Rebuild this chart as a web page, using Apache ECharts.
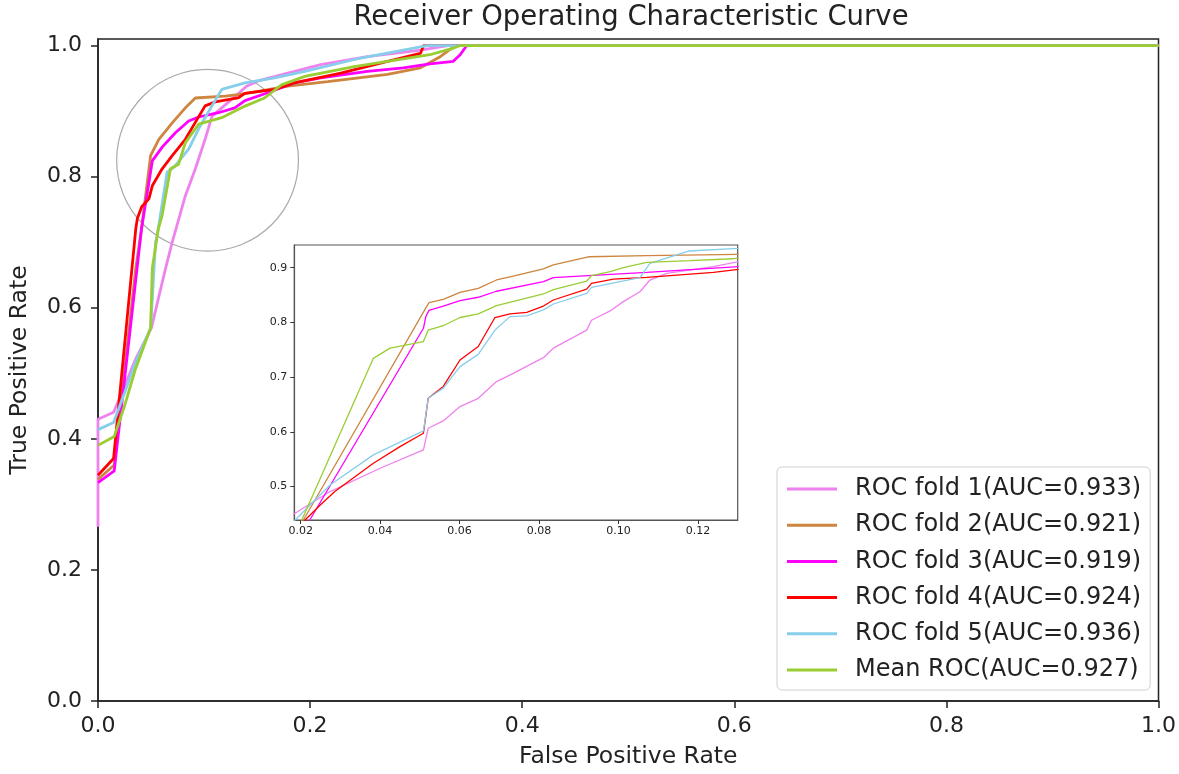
<!DOCTYPE html>
<html><head><meta charset="utf-8">
<script src="https://cdn.jsdelivr.net/npm/echarts@6/dist/echarts.min.js"></script>
<style>html,body{margin:0;padding:0;background:#fff}#c{width:1179px;height:774px}</style>
</head><body><div id="c"></div>
<script>
// ---------- data ----------
const seriesNames = ['ROC fold 1(AUC=0.933)','ROC fold 2(AUC=0.921)','ROC fold 3(AUC=0.919)','ROC fold 4(AUC=0.924)','ROC fold 5(AUC=0.936)','Mean ROC(AUC=0.927)'];
const seriesColors = ['#ee82ee','#cd853f','#ff00ff','#ff0000','#87ceeb','#9acd32'];

const fold1Main = [[0,0.266],[0,0.43],[0.0147,0.4405],[0.025,0.48],[0.035,0.52],[0.0503,0.569],[0.0637,0.66],[0.07,0.70],[0.0824,0.771],[0.0918,0.812],[0.101,0.857],[0.1074,0.892],[0.1167,0.905],[0.129,0.922],[0.14,0.938],[0.151,0.946],[0.179,0.958],[0.21,0.971],[0.254,0.983],[0.304,0.993],[0.3227,0.998],[0.33,1.0],[1,1]];
const fold2Main = [[0,0.338],[0.0153,0.36],[0.0356,0.66],[0.041,0.72],[0.0496,0.832],[0.0574,0.857],[0.07,0.882],[0.0824,0.905],[0.0918,0.920],[0.12,0.923],[0.132,0.925],[0.151,0.930],[0.179,0.938],[0.2166,0.945],[0.273,0.956],[0.304,0.966],[0.3227,0.983],[0.332,0.994],[0.338,1.0],[1,1]];
const fold3Main = [[0,0.333],[0.0153,0.351],[0.041,0.72],[0.0512,0.824],[0.0605,0.845],[0.073,0.867],[0.0855,0.885],[0.0949,0.891],[0.1136,0.8975],[0.129,0.905],[0.1386,0.916],[0.160,0.928],[0.185,0.943],[0.21,0.9506],[0.254,0.9606],[0.288,0.966],[0.313,0.972],[0.335,0.976],[0.3415,0.986],[0.3477,1.0],[1,1]];
const fold4Main = [[0,0.3445],[0.0147,0.37],[0.0356,0.72],[0.0371,0.736],[0.0412,0.754],[0.048,0.766],[0.0512,0.786],[0.0605,0.812],[0.07,0.832],[0.0824,0.857],[0.0933,0.887],[0.101,0.908],[0.1105,0.914],[0.132,0.920],[0.1386,0.927],[0.1667,0.933],[0.185,0.943],[0.229,0.958],[0.273,0.976],[0.304,0.988],[0.307,1.0],[1,1]];
const fold5Main = [[0,0.414],[0.0147,0.425],[0.025,0.47],[0.035,0.515],[0.0496,0.569],[0.0543,0.70],[0.0559,0.711],[0.0652,0.807],[0.0715,0.814],[0.0855,0.842],[0.0949,0.873],[0.1074,0.908],[0.1167,0.933],[0.1386,0.943],[0.1667,0.9506],[0.195,0.9606],[0.2478,0.981],[0.2978,0.996],[0.31,1.0],[1,1]];
const meanMain  = [[0,0.39],[0.0153,0.4036],[0.025,0.45],[0.035,0.505],[0.0496,0.569],[0.0512,0.66],[0.0568,0.72],[0.0605,0.741],[0.0683,0.812],[0.076,0.819],[0.0824,0.852],[0.0949,0.880],[0.1167,0.89],[0.126,0.8975],[0.1386,0.9076],[0.157,0.920],[0.173,0.940],[0.195,0.953],[0.2416,0.968],[0.273,0.976],[0.313,0.986],[0.335,0.996],[0.3415,1.0],[1,1]];

const fold1Inset = [[0.0175,0.446],[0.0186,0.4513],[0.0274,0.491],[0.04,0.5336],[0.0509,0.567],[0.0521,0.6066],[0.0559,0.620],[0.0601,0.6462],[0.0647,0.6614],[0.0693,0.692],[0.0735,0.707],[0.0811,0.7356],[0.0836,0.753],[0.092,0.786],[0.0932,0.804],[0.0979,0.821],[0.1012,0.838],[0.1054,0.856],[0.1079,0.8775],[0.1121,0.8897],[0.1239,0.902],[0.1302,0.911]];
const fold2Inset = [[0.0200,0.43],[0.0207,0.439],[0.0517,0.8288],[0.0523,0.836],[0.0559,0.842],[0.0601,0.855],[0.0647,0.8623],[0.0693,0.8776],[0.0735,0.8848],[0.0811,0.8977],[0.0836,0.905],[0.0924,0.920],[0.1071,0.922],[0.1302,0.9244]];
const fold3Inset = [[0.0216,0.43],[0.0223,0.439],[0.0509,0.7893],[0.0515,0.8106],[0.0523,0.822],[0.0559,0.830],[0.0601,0.8398],[0.0647,0.846],[0.0693,0.857],[0.0811,0.8745],[0.0836,0.8818],[0.0924,0.8855],[0.1071,0.8916],[0.1302,0.902]];
const fold4Inset = [[0.0198,0.43],[0.0211,0.439],[0.025,0.467],[0.0286,0.491],[0.0383,0.5427],[0.045,0.573],[0.0509,0.5975],[0.0521,0.6614],[0.0559,0.683],[0.0601,0.7314],[0.0647,0.756],[0.0689,0.809],[0.0727,0.8155],[0.0769,0.8185],[0.0811,0.830],[0.0836,0.841],[0.092,0.861],[0.0932,0.8715],[0.0987,0.8793],[0.1071,0.8824],[0.1239,0.8916],[0.1302,0.897]];
const fold5Inset = [[0.0175,0.43],[0.0186,0.439],[0.0274,0.503],[0.0383,0.558],[0.0509,0.6017],[0.0521,0.6614],[0.0559,0.680],[0.0601,0.7193],[0.0647,0.7417],[0.0689,0.786],[0.0727,0.8106],[0.0769,0.812],[0.0811,0.823],[0.0836,0.8337],[0.092,0.853],[0.0932,0.864],[0.1054,0.8818],[0.1079,0.908],[0.1176,0.9305],[0.1302,0.9354]];
const meanInset  = [[0.0197,0.43],[0.0203,0.439],[0.0383,0.7344],[0.0425,0.753],[0.0509,0.765],[0.0521,0.786],[0.0559,0.794],[0.0601,0.809],[0.0647,0.8155],[0.0693,0.8306],[0.0811,0.852],[0.0836,0.860],[0.092,0.8757],[0.0932,0.8855],[0.0979,0.8928],[0.1012,0.90],[0.1071,0.9097],[0.118,0.9128],[0.1272,0.9159],[0.1302,0.917]];

const mainTicks = [0, 0.2, 0.4, 0.6, 0.8, 1.0];
const insetXTicks = [0.02, 0.04, 0.06, 0.08, 0.10, 0.12];
const insetYTicks = [0.5, 0.6, 0.7, 0.8, 0.9];
const mainXRange = [0, 1];
const mainYRange = [0, 1.01];
const insetXRange = [0.0184, 0.13];
const insetYRange = [0.439, 0.9415];
const circleCenter = [0.1033, 0.825];
const circleRadiusX = 0.0857;

// ---------- chart ----------
const FONT = 'DejaVu Sans';
const chart = echarts.init(document.getElementById('c'), null, {renderer:'canvas'});
const mainData = [fold1Main, fold2Main, fold3Main, fold4Main, fold5Main, meanMain];
const insetData = [fold1Inset, fold2Inset, fold3Inset, fold4Inset, fold5Inset, meanInset];

const series = [];
mainData.forEach((d, i) => series.push({
  type:'line', name: seriesNames[i], xAxisIndex:0, yAxisIndex:0, data:d,
  symbol:'none', showSymbol:false, z:2,
  lineStyle:{width:2.8, color:seriesColors[i]}, itemStyle:{color:seriesColors[i]}
}));
insetData.forEach((d, i) => series.push({
  type:'line', name: seriesNames[i], xAxisIndex:1, yAxisIndex:1, data:d,
  symbol:'none', showSymbol:false, z:7, clip:true,
  lineStyle:{width:1.3, color:seriesColors[i]}, itemStyle:{color:seriesColors[i]}
}));

const axisCommon = () => ({
  axisLine:{show:true, onZero:false, lineStyle:{color:'#222', width:1.5}},
  splitLine:{show:false}
});

chart.setOption({
  animation:false,
  backgroundColor:'#fff',
  title:{text:'Receiver Operating Characteristic Curve', left:626, textAlign:'center', top:-1,
    textStyle:{fontSize:27.5, fontWeight:'normal', fontFamily:FONT, color:'#222'}},
  grid:[
    {left:92, top:39, width:1068, height:666.7, show:true, borderColor:'#222', borderWidth:1.5, backgroundColor:'transparent'},
    {left:294.3, top:245, width:443.4, height:275, show:true, borderColor:'#555', borderWidth:1.2, backgroundColor:'#fff', z:5}
  ],
  xAxis:[
    Object.assign(axisCommon(), {type:'value', gridIndex:0, min:mainXRange[0], max:mainXRange[1],
      axisTick:{show:true, length:7, lineStyle:{width:1.5, color:'#222'}, customValues:mainTicks},
      axisLabel:{fontSize:22, fontFamily:FONT, color:'#222', margin:14, customValues:mainTicks, formatter:v=>v.toFixed(1)},
      name:'False Positive Rate', nameLocation:'middle', nameGap:44,
      nameTextStyle:{fontSize:23.5, fontFamily:FONT, color:'#222'}}),
    Object.assign(axisCommon(), {type:'value', gridIndex:1, min:insetXRange[0], max:insetXRange[1], z:6,
      axisLine:{show:true, onZero:false, lineStyle:{color:'#555', width:1.2}},
      axisTick:{show:true, length:4, lineStyle:{width:1, color:'#333'}, customValues:insetXTicks},
      axisLabel:{fontSize:11, fontFamily:FONT, color:'#222', margin:6, customValues:insetXTicks, formatter:v=>v.toFixed(2)}})
  ],
  yAxis:[
    Object.assign(axisCommon(), {type:'value', gridIndex:0, min:mainYRange[0], max:mainYRange[1],
      axisTick:{show:true, length:7, lineStyle:{width:1.5, color:'#222'}, customValues:mainTicks},
      axisLabel:{fontSize:22, fontFamily:FONT, color:'#222', margin:16, customValues:mainTicks, formatter:v=>v.toFixed(1)},
      name:'True Positive Rate', nameLocation:'middle', nameGap:66,
      nameTextStyle:{fontSize:23.5, fontFamily:FONT, color:'#222'}}),
    Object.assign(axisCommon(), {type:'value', gridIndex:1, min:insetYRange[0], max:insetYRange[1], z:6,
      axisLine:{show:true, onZero:false, lineStyle:{color:'#555', width:1.2}},
      axisTick:{show:true, length:4, lineStyle:{width:1, color:'#333'}, customValues:insetYTicks},
      axisLabel:{fontSize:11, fontFamily:FONT, color:'#222', margin:7, customValues:insetYTicks, formatter:v=>v.toFixed(1)}})
  ],
  legend:{
    orient:'vertical', left:777, top:467, z:10,
    padding:[8, 9, 6, 10], itemWidth:50, itemHeight:3, itemGap:8.2, icon:'rect',
    backgroundColor:'#fff', borderColor:'#d0d0d0', borderWidth:1, borderRadius:5,
    textStyle:{fontSize:24, lineHeight:28, fontFamily:FONT, color:'#222', padding:[0,0,0,13]},
    data: seriesNames
  },
  series: series
});

const cp = chart.convertToPixel({gridIndex:0}, circleCenter);
const ep = chart.convertToPixel({gridIndex:0}, [circleCenter[0] + circleRadiusX, circleCenter[1]]);
chart.setOption({graphic:[{type:'circle', silent:true, z:1,
  shape:{cx:cp[0], cy:cp[1], r:ep[0]-cp[0]},
  style:{fill:'none', stroke:'#aaaaaa', lineWidth:1.2}}]});
</script></body></html>
